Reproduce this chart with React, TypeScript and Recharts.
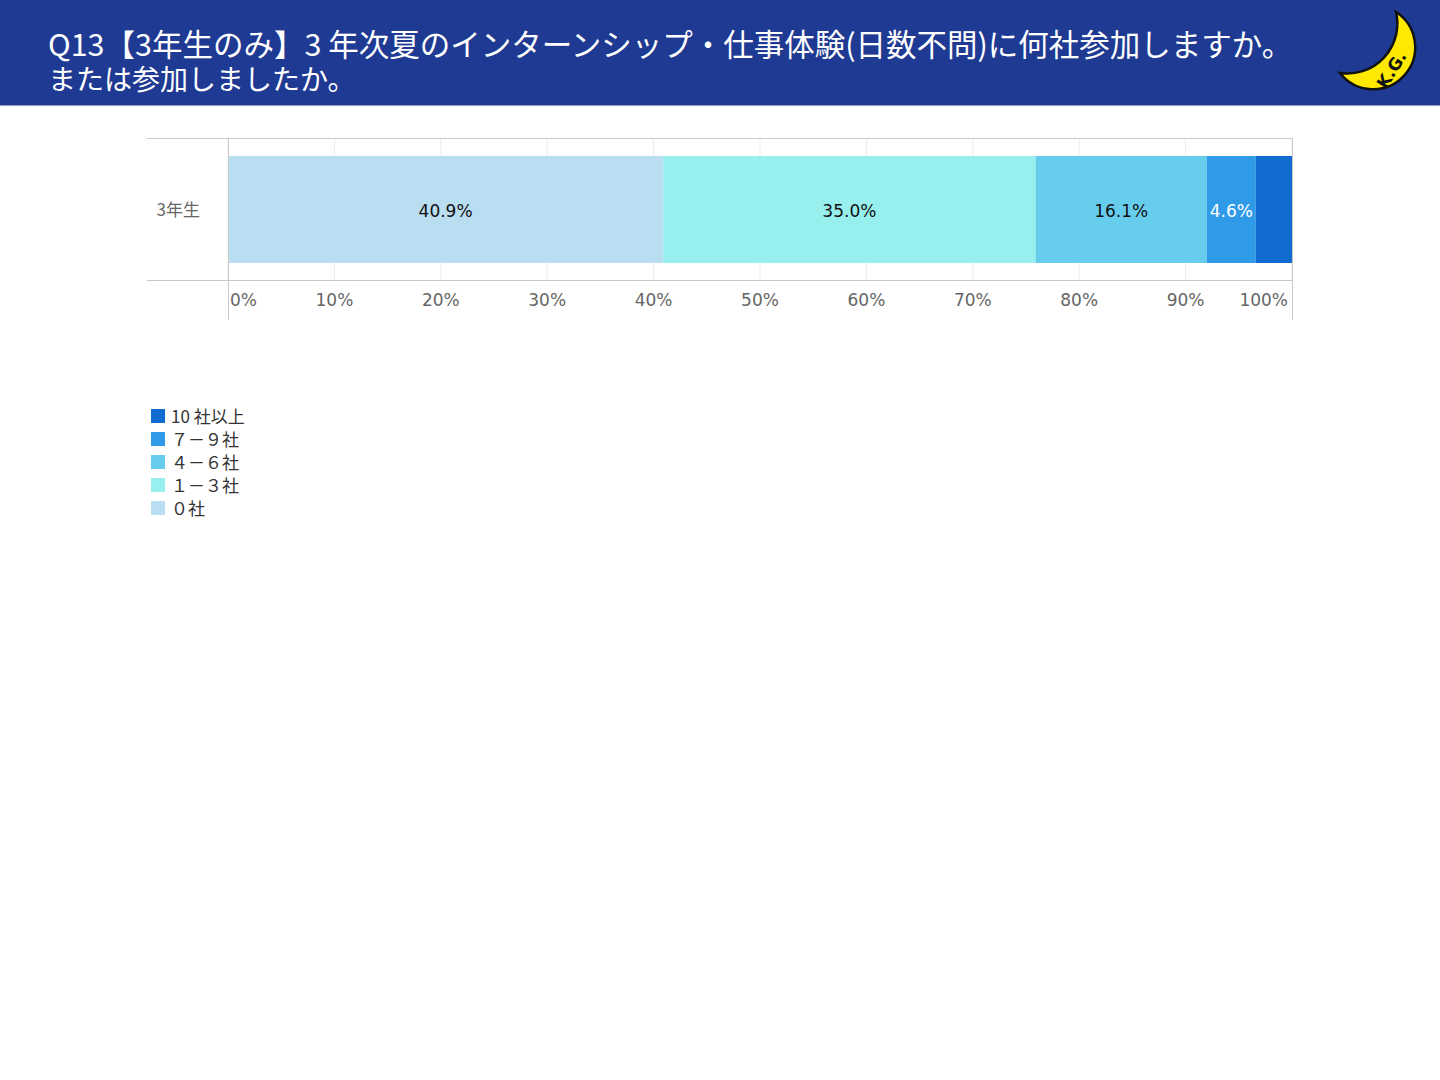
import React from "react"
import { Bar, BarChart, CartesianGrid, LabelList, XAxis, YAxis } from "recharts"

// chart data
const categories = ["3年生"]
const seriesKeys = ["zero", "oneToThree", "fourToSix", "sevenToNine", "tenPlus"]
const seriesNames = ["０社", "１－３社", "４－６社", "７－９社", "10 社以上"]
const zero = [40.9]
const oneToThree = [35.0]
const fourToSix = [16.1]
const sevenToNine = [4.6]
const tenPlus = [3.4]
const xTicks = [0, 10, 20, 30, 40, 50, 60, 70, 80, 90, 100]

const colors = ["#b9ddf1", "#97f0ee", "#67cdec", "#2f9ae8", "#106dcf"]
const labelColors = ["#111", "#111", "#111", "#fff", null]

const FONT = '"DejaVu Sans", "Noto Sans CJK JP", sans-serif'
const TITLE_FONT = '"Noto Sans CJK JP", sans-serif'

const values = [zero, oneToThree, fourToSix, sevenToNine, tenPlus]
const data = categories.map((name, i) => {
  const row: Record<string, string | number> = { name }
  seriesKeys.forEach((k, s) => (row[k] = values[s][i]))
  return row
})

const W = 1440
const H = 330
const M = { top: 138, right: 148, bottom: 10, left: 147 }
const Y_W = 81
const X_H = 40
const plotLeft = M.left + Y_W
const plotRight = W - M.right
const plotBottom = H - M.bottom - X_H

function XTick(props: any) {
  const { x, y, payload, index } = props
  const last = index === xTicks.length - 1
  const anchor = index === 0 ? "start" : last ? "end" : "middle"
  const dx = index === 0 ? 2 : last ? -4 : 0
  return (
    <text x={x + dx} y={y} dy={18} textAnchor={anchor} fill="#666" fontSize={17} fontFamily={FONT}>
      {payload.value}%
    </text>
  )
}

function YTick(props: any) {
  const { y, payload } = props
  return (
    <text x={plotLeft - 28} y={y} dy={7} textAnchor="end" fill="#666" fontSize={17} fontFamily={TITLE_FONT}>
      {payload.value}
    </text>
  )
}

function Moon() {
  return (
    <svg width={100} height={105} style={{ position: "absolute", left: 1330, top: 0 }}>
      <path d="M66,12 A42,42 0 1,1 10,73 A50,50 0 0,0 66,12 Z" fill="#ffe900" stroke="#111" strokeWidth={2.5} />
      <text
        x={0}
        y={0}
        transform="translate(56,90) rotate(-58)"
        fontSize={17}
        fontWeight="bold"
        fontFamily={FONT}
        fill="#111"
      >
        K.G.
      </text>
    </svg>
  )
}

export default function App() {
  return (
    <div style={{ position: "absolute", left: 0, top: 0, width: W, height: 1080, background: "#fff" }}>
      <div
        style={{
          position: "absolute",
          left: 0,
          top: 0,
          width: W,
          height: 105,
          background: "#1f3a92",
          borderBottom: "1px solid #8f9ec8",
          color: "#fff",
          fontFamily: TITLE_FONT,
          whiteSpace: "nowrap",
        }}
      >
        <div style={{ position: "absolute", left: 48, top: 27, fontSize: 30.5, lineHeight: "33px" }}>
          Q13【3年生のみ】3 年次夏のインターンシップ・仕事体験(日数不問)に何社参加しますか。
        </div>
        <div style={{ position: "absolute", left: 48, top: 62, fontSize: 28, lineHeight: "32px" }}>
          または参加しましたか。
        </div>
        <Moon />
      </div>

      <div style={{ position: "absolute", left: 0, top: 0, width: W, height: H }}>
        <BarChart width={W} height={H} data={data} layout="vertical" margin={M}>
          <CartesianGrid horizontal={false} stroke="#ececec" />
          <XAxis
            type="number"
            domain={[0, 100]}
            ticks={xTicks}
            height={X_H}
            axisLine={false}
            tickLine={false}
            tick={<XTick />}
            interval={0}
          />
          <YAxis type="category" dataKey="name" width={Y_W} axisLine={false} tickLine={false} tick={<YTick />} />
          {seriesKeys.map((k, s) => (
            <Bar
              key={k}
              dataKey={k}
              name={seriesNames[s]}
              stackId="a"
              fill={colors[s]}
              barSize={107}
              isAnimationActive={false}
            >
              {labelColors[s] && (
                <LabelList
                  dataKey={k}
                  position="center"
                  fill={labelColors[s] as string}
                  fontSize={17}
                  fontFamily={FONT}
                  dy={1}
                  formatter={(v: any) => `${Number(v).toFixed(1)}%`}
                />
              )}
            </Bar>
          ))}
        </BarChart>
        <svg width={W} height={H} style={{ position: "absolute", left: 0, top: 0, pointerEvents: "none" }}>
          <g stroke="#c9c9c9" strokeWidth={1}>
            <line x1={M.left} x2={plotRight} y1={M.top + 0.5} y2={M.top + 0.5} />
            <line x1={M.left} x2={plotRight} y1={plotBottom + 0.5} y2={plotBottom + 0.5} />
            <line x1={plotLeft + 0.5} x2={plotLeft + 0.5} y1={M.top} y2={H - M.bottom} />
            <line x1={plotRight + 0.5} x2={plotRight + 0.5} y1={M.top} y2={H - M.bottom} />
          </g>
        </svg>
      </div>

      <div style={{ position: "absolute", left: 151, top: 404, fontFamily: TITLE_FONT, fontSize: 17, color: "#333" }}>
        {seriesNames
          .map((n, i) => ({ n, c: colors[i] }))
          .reverse()
          .map((item) => (
            <div key={item.n} style={{ display: "flex", alignItems: "center", height: 23 }}>
              <span style={{ width: 14, height: 14, background: item.c, marginRight: 6, display: "inline-block" }} />
              <span>{item.n}</span>
            </div>
          ))}
      </div>
    </div>
  )
}
